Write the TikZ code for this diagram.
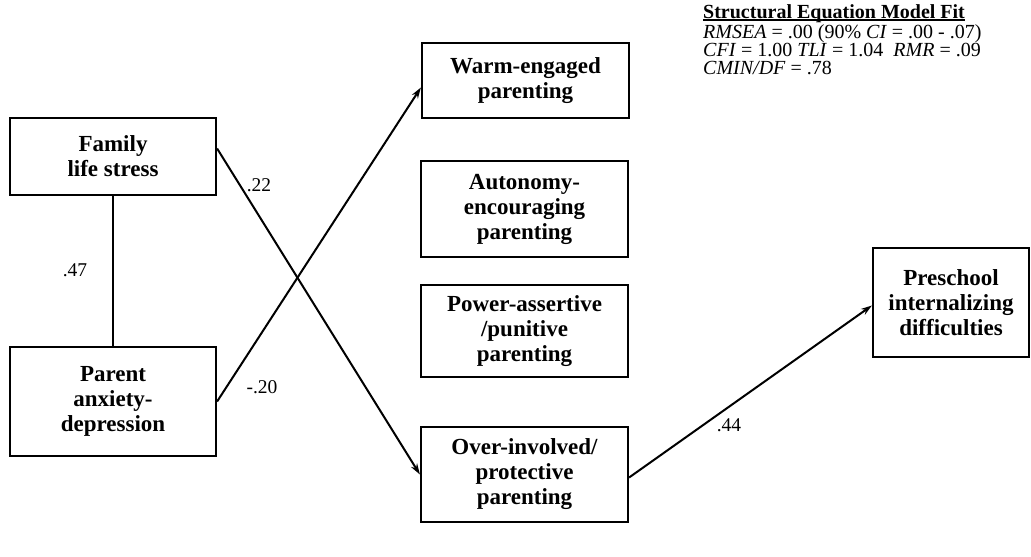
\documentclass[tikz,border=0pt]{standalone}
\usepackage{fontspec}
\setmainfont{Liberation Serif}
\usetikzlibrary{arrows.meta,positioning,calc}
\newcommand\myul[1]{\setbox0\hbox{#1}\rlap{\rule[-2.5pt]{\wd0}{1.3pt}}\box0}
\begin{document}
\begin{tikzpicture}[x=1pt,y=-1pt,
  box/.style={draw,line width=2.2pt,align=center,inner sep=0pt,
    font=\fontsize{23pt}{25pt}\selectfont\bfseries},
  path/.style={line width=2pt,-{Stealth[length=11pt,width=7pt]}},
  lbl/.style={font=\fontsize{19.5pt}{21pt}\selectfont,inner sep=0pt}]
\useasboundingbox (0,0) rectangle (1031,557);
\node[box,minimum width=206pt,minimum height=77pt] (fam) at (113,156.5) {Family\\life stress};
\node[box,minimum width=206pt,minimum height=109pt] (par) at (113,401.5) {Parent\\anxiety-\\depression};
\node[box,minimum width=207pt,minimum height=75pt] (warm) at (525.5,80.5) {Warm-engaged\\parenting};
\node[box,minimum width=207pt,minimum height=96pt] (auto) at (524.5,209) {Autonomy-\\encouraging\\parenting};
\node[box,minimum width=207pt,minimum height=92pt] (pow) at (524.5,331) {Power-assertive\\/punitive\\parenting};
\node[box,minimum width=207pt,minimum height=95pt] (over) at (524.5,474.5) {Over-involved/\\protective\\parenting};
\node[box,minimum width=156pt,minimum height=109pt] (pre) at (951,302.5) {Preschool\\internalizing\\difficulties};
\draw[line width=2pt] (fam.south) -- (par.north);
\draw[path] ([yshift=8pt]fam.east) -- (over.west);
\draw[path] (par.east) -- ([yshift=-7pt]warm.west);
\draw[path] ([yshift=-3pt]over.east) -- ([yshift=-3pt]pre.west);
\node[lbl] (l47) at (75,270) {.47};
\node[lbl] (l22) at (259,185) {.22};
\node[lbl] (l20) at (262,387) {-.20};
\node[lbl] (l44) at (729,425) {.44};
\node[anchor=north west,align=left,inner sep=0pt,
  font=\fontsize{20pt}{18pt}\selectfont] (fit) at (703,4)
  {\myul{\textbf{Structural Equation Model Fit}}\\[1pt]
   \textit{RMSEA} = .00 (90\% \textit{CI} = .00 - .07)\\
   \textit{CFI} = 1.00 \textit{TLI} = 1.04\ \ \textit{RMR} = .09\\
   \textit{CMIN/DF} = .78};
\end{tikzpicture}
\end{document}
